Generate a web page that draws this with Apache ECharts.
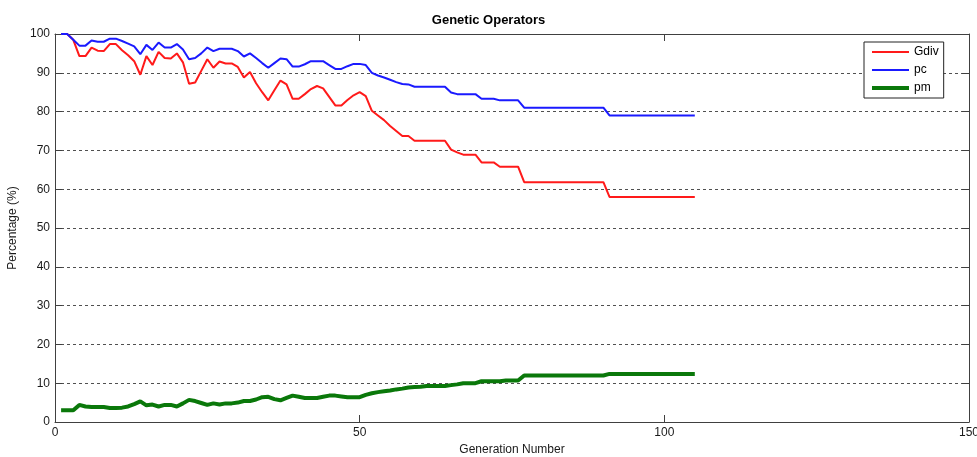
<!DOCTYPE html>
<html>
<head>
<meta charset="utf-8">
<title>Genetic Operators</title>
<script src="https://cdn.jsdelivr.net/npm/echarts@6/dist/echarts.min.js"></script>
<style>
  html, body { margin: 0; padding: 0; background: #fff; }
  #chart { width: 977px; height: 457px; }
</style>
</head>
<body>
<div id="chart"></div>
<script>
// Generation-by-generation percentages for the three operators (generations 1..105)
const gdiv = [
  100, 100, 98.5, 94.3, 94.3, 96.5, 95.7, 95.6, 97.4, 97.4,
  95.8, 94.5, 93.0, 89.5, 94.3, 92.0, 95.4, 93.8, 93.7, 95.0,
  92.7, 87.2, 87.5, 90.5, 93.5, 91.3, 92.9, 92.4, 92.4, 91.5,
  88.8, 90.2, 87.3, 85.0, 82.9, 85.5, 88.0, 87.0, 83.3, 83.3,
  84.5, 85.8, 86.6, 86.0, 83.8, 81.6, 81.6, 83.0, 84.2, 85.0,
  84.0, 80.2, 79.0, 77.8, 76.3, 75.0, 73.7, 73.7, 72.5, 72.5,
  72.5, 72.5, 72.5, 72.5, 70.2, 69.5, 68.9, 68.9, 68.9, 66.9,
  66.9, 66.9, 65.8, 65.8, 65.8, 65.8, 61.8, 61.8, 61.8, 61.8,
  61.8, 61.8, 61.8, 61.8, 61.8, 61.8, 61.8, 61.8, 61.8, 61.8,
  58.0, 58.0, 58.0, 58.0, 58.0, 58.0, 58.0, 58.0, 58.0, 58.0,
  58.0, 58.0, 58.0, 58.0, 58.0
];
const pc = [
  100, 100, 98.5, 97.0, 97.0, 98.3, 98.0, 98.0, 98.8, 98.8,
  98.2, 97.5, 96.8, 94.8, 97.2, 95.9, 97.8, 96.5, 96.5, 97.4,
  96.0, 93.5, 93.8, 95.0, 96.5, 95.6, 96.2, 96.2, 96.2, 95.6,
  94.2, 95.0, 93.8, 92.5, 91.3, 92.5, 93.7, 93.5, 91.6, 91.6,
  92.2, 93.0, 93.0, 93.0, 92.0, 91.0, 91.0, 91.7, 92.3, 92.3,
  92.0, 90.0, 89.3, 88.8, 88.2, 87.6, 87.1, 87.0, 86.4, 86.4,
  86.4, 86.4, 86.4, 86.4, 84.9, 84.5, 84.5, 84.5, 84.5, 83.3,
  83.3, 83.3, 82.9, 82.9, 82.9, 82.9, 81.0, 81.0, 81.0, 81.0,
  81.0, 81.0, 81.0, 81.0, 81.0, 81.0, 81.0, 81.0, 81.0, 81.0,
  79.0, 79.0, 79.0, 79.0, 79.0, 79.0, 79.0, 79.0, 79.0, 79.0,
  79.0, 79.0, 79.0, 79.0, 79.0
];
const pm = [
  3.0, 3.0, 3.0, 4.4, 4.0, 3.85, 3.85, 3.85, 3.6, 3.6,
  3.7, 4.0, 4.6, 5.3, 4.3, 4.5, 4.0, 4.4, 4.4, 4.0,
  4.8, 5.7, 5.4, 4.9, 4.4, 4.8, 4.5, 4.8, 4.8, 5.0,
  5.4, 5.4, 5.8, 6.4, 6.5, 5.9, 5.6, 6.2, 6.8, 6.5,
  6.2, 6.2, 6.2, 6.5, 6.8, 6.8, 6.6, 6.4, 6.4, 6.4,
  7.0, 7.4, 7.7, 7.9, 8.1, 8.4, 8.6, 8.9, 9.0, 9.1,
  9.3, 9.3, 9.3, 9.3, 9.5, 9.7, 10.0, 10.0, 10.0, 10.5,
  10.5, 10.5, 10.5, 10.7, 10.7, 10.7, 12.0, 12.0, 12.0, 12.0,
  12.0, 12.0, 12.0, 12.0, 12.0, 12.0, 12.0, 12.0, 12.0, 12.0,
  12.4, 12.4, 12.4, 12.4, 12.4, 12.4, 12.4, 12.4, 12.4, 12.4,
  12.4, 12.4, 12.4, 12.4, 12.4
];
const seriesNames = ['Gdiv', 'pc', 'pm'];
const xTicks = [0, 50, 100, 150];
const yTicks = [0, 10, 20, 30, 40, 50, 60, 70, 80, 90, 100];

// Pair each value with its generation number (first generation is 1)
const withGen = arr => arr.map((v, i) => [i + 1, v]);

const FONT = 'Liberation Sans, Arial, sans-serif';
const AXIS_COLOR = '#404040';
const TEXT_COLOR = '#1a1a1a';

// Flat bar icons for the legend (aspect kept, so the bar keeps its thickness)
const THIN_BAR = 'path://M0,0L37,0L37,2L0,2Z';
const THICK_BAR = 'path://M0,0L37,0L37,4L0,4Z';

const chart = echarts.init(document.getElementById('chart'), null, { renderer: 'canvas' });

const baseX = {
  type: 'value', min: xTicks[0], max: xTicks[xTicks.length - 1], interval: 50,
  axisLine: { show: true, onZero: false, lineStyle: { color: AXIS_COLOR, width: 1 } },
  axisTick: { show: true, inside: true, length: 7, lineStyle: { color: AXIS_COLOR } },
  splitLine: { show: false }
};
const baseY = {
  type: 'value', min: yTicks[0], max: yTicks[yTicks.length - 1], interval: 10,
  axisLine: { show: true, onZero: false, lineStyle: { color: AXIS_COLOR, width: 1 } },
  axisTick: { show: true, inside: true, length: 7, lineStyle: { color: AXIS_COLOR } }
};

chart.setOption({
  animation: false,
  backgroundColor: '#fff',
  textStyle: { fontFamily: FONT },
  title: {
    text: 'Genetic Operators',
    left: 'center', top: 9,
    textStyle: { fontFamily: FONT, fontSize: 13, fontWeight: 'bold', color: '#000' }
  },
  // fixed plot rectangle; labels sit outside it without shrinking it
  grid: { left: 55, right: 8, top: 34, bottom: 35, containLabel: false, outerBoundsMode: 'none' },
  legend: {
    data: [
      { name: seriesNames[0], icon: THIN_BAR },
      { name: seriesNames[1], icon: THIN_BAR },
      { name: seriesNames[2], icon: THICK_BAR }
    ],
    orient: 'vertical',
    left: 864, top: 42,
    itemWidth: 37, itemHeight: 12, itemGap: 6,
    symbolKeepAspect: true,
    padding: [4, 5, 4, 8],
    backgroundColor: '#fff',
    borderColor: '#222', borderWidth: 1, borderRadius: 0,
    textStyle: { fontFamily: FONT, fontSize: 12, color: '#000' }
  },
  xAxis: [
    Object.assign({}, baseX, {
      position: 'bottom',
      name: 'Generation Number', nameLocation: 'middle', nameGap: 20,
      nameTextStyle: { fontFamily: FONT, fontSize: 12, color: TEXT_COLOR },
      axisLabel: { color: TEXT_COLOR, fontSize: 12, fontFamily: FONT, margin: 5 }
    }),
    Object.assign({}, baseX, { position: 'top', axisLabel: { show: false } })
  ],
  yAxis: [
    Object.assign({}, baseY, {
      position: 'left',
      name: 'Percentage (%)', nameLocation: 'middle', nameGap: 26,
      nameTextStyle: { fontFamily: FONT, fontSize: 12, color: TEXT_COLOR },
      axisLabel: { color: TEXT_COLOR, fontSize: 12, fontFamily: FONT, margin: 5 },
      splitLine: { show: true, lineStyle: { color: '#505050', type: [3, 3], width: 1 } }
    }),
    Object.assign({}, baseY, { position: 'right', axisLabel: { show: false }, splitLine: { show: false } })
  ],
  series: [
    {
      name: 'Gdiv', type: 'line', data: withGen(gdiv), symbol: 'none',
      lineStyle: { color: '#ff1a1a', width: 2 }, itemStyle: { color: '#ff1a1a' }, z: 3
    },
    {
      name: 'pc', type: 'line', data: withGen(pc), symbol: 'none',
      lineStyle: { color: '#1a1aff', width: 2 }, itemStyle: { color: '#1a1aff' }, z: 3
    },
    {
      name: 'pm', type: 'line', data: withGen(pm), symbol: 'none',
      lineStyle: { color: '#0a780a', width: 4 }, itemStyle: { color: '#0a780a' }, z: 3
    }
  ]
});
</script>
</body>
</html>
